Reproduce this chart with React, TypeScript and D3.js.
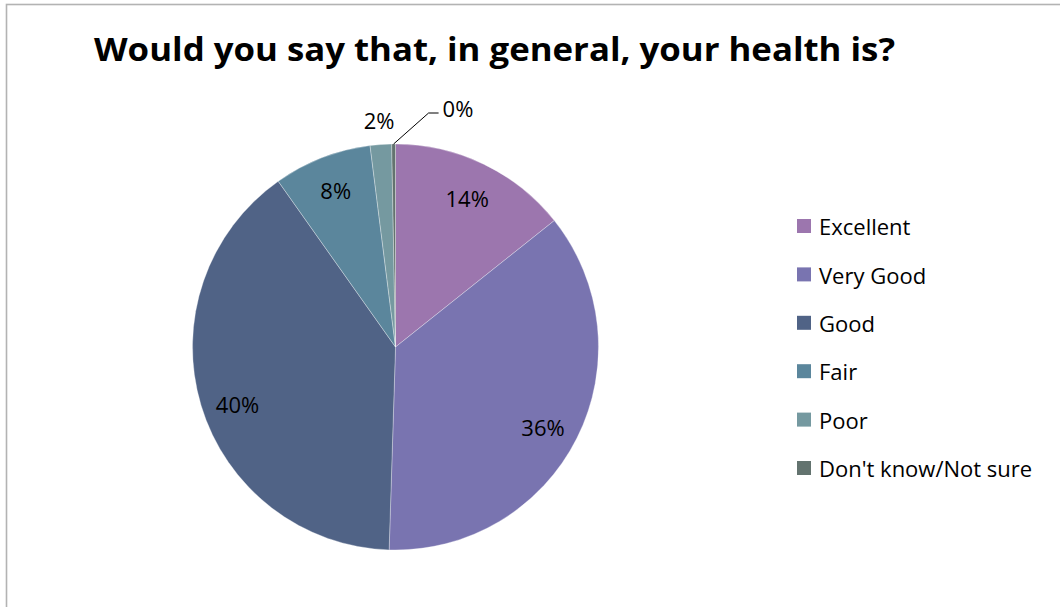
import React from "react";
import * as d3 from "d3";

const categories = ["Excellent", "Very Good", "Good", "Fair", "Poor", "Don't know/Not sure"];
const values = [14.3, 36.2, 39.7, 7.8, 1.7, 0.3];
const colors = ["#9c76ae", "#7974b0", "#506386", "#5b869c", "#7599a0", "#63736f"];
const title = "Would you say that, in general, your health is?";

const W = 1060;
const H = 607;
const cx = 395.5;
const cy = 347;
const R = 203;
const FONT = "'Open Sans', 'Noto Sans', sans-serif";
const labelNudgeY = [1, 7, 11, -2, 0, 0];

export default function App() {
  const pie = d3.pie<number>().sort(null).value((d) => d)(values);
  const arc = d3.arc<d3.PieArcDatum<number>>().innerRadius(0).outerRadius(R);
  const total = d3.sum(values);
  const fmt = (v: number) => `${Math.round((v / total) * 100)}%`;

  const legendY = d3.scalePoint<string>().domain(categories).range([226, 468]);

  const polar = (angle: number, r: number): [number, number] => [
    Math.sin(angle) * r,
    -Math.cos(angle) * r,
  ];

  return (
    <svg
      width={W}
      height={H}
      style={{ position: "absolute", left: 0, top: 0, background: "#fff" }}
      fontFamily={FONT}
    >
      <rect x={0} y={0} width={W} height={H} fill="#fff" />
      <rect x={6.5} y={4.5} width={W + 20} height={H + 20} fill="none" stroke="#b3b3b3" strokeWidth={1.6} />
      <text
        x={94}
        y={61}
        fontSize={32}
        fontWeight={700}
        fill="#000"
        textLength={801}
        lengthAdjust="spacingAndGlyphs"
      >
        {title}
      </text>
      <g transform={`translate(${cx},${cy})`}>
        {pie.map((d, i) => (
          <path key={i} d={arc(d) || ""} fill={colors[i]} stroke="rgba(255,255,255,0.45)" strokeWidth={0.7} />
        ))}
        {pie.map((d, i) => {
          const mid = (d.startAngle + d.endAngle) / 2;
          if (i < 4) {
            const [x, y] = polar(mid, 165);
            return (
              <text key={i} x={x} y={y + labelNudgeY[i]} dy="0.36em" textAnchor="middle" fontSize={22} fill="#000">
                {fmt(d.value)}
              </text>
            );
          }
          if (i === 4) {
            const [x, y] = polar(mid, R + 24);
            return (
              <text key={i} x={x} y={y} dy="0.36em" textAnchor="middle" fontSize={22} fill="#000">
                {fmt(d.value)}
              </text>
            );
          }
          const [x0, y0] = polar(mid, R);
          const ex = x0 + 35;
          const ey = y0 - 31;
          return (
            <g key={i}>
              <polyline
                points={`${x0},${y0} ${ex},${ey} ${ex + 10},${ey}`}
                fill="none"
                stroke="#000"
                strokeWidth={1}
              />
              <text x={ex + 14} y={ey - 4} dy="0.36em" textAnchor="start" fontSize={22} fill="#000">
                {fmt(d.value)}
              </text>
            </g>
          );
        })}
      </g>
      <g>
        {categories.map((c, i) => {
          const y = legendY(c) as number;
          return (
            <g key={c}>
              <rect x={797} y={y - 7} width={14} height={14} fill={colors[i]} />
              <text x={819} y={y} dy="0.42em" fontSize={22} fill="#000">
                {c}
              </text>
            </g>
          );
        })}
      </g>
    </svg>
  );
}
